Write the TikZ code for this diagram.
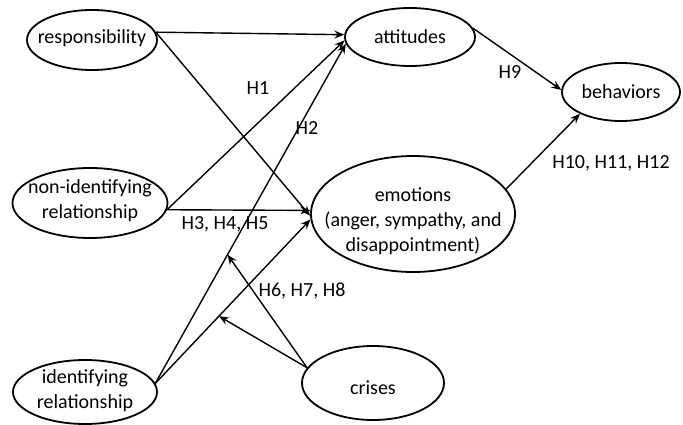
\documentclass[tikz,border=0pt]{standalone}
\usepackage{fontspec}
\setmainfont{Carlito}
\usetikzlibrary{shapes.geometric,arrows.meta}
\tikzset{
  ell/.style={draw, ellipse, line width=1.8pt, inner sep=0pt},
  txt/.style={inner sep=0pt, align=center, font=\fontsize{20}{25}\selectfont},
  hyp/.style={inner sep=0pt, font=\fontsize{20}{25}\selectfont},
  link/.style={line width=1.4pt, -{Stealth[length=10pt,width=8pt,inset=3.5pt]}},
}
\begin{document}
\begin{tikzpicture}[x=1pt,y=-1pt]
\useasboundingbox (0,0) rectangle (683,425);

% constructs
\node[ell, minimum width=130pt, minimum height=60pt]  (resp)   at (92,40)   {};
\node[ell, minimum width=130pt, minimum height=58pt]  (att)    at (410,37)  {};
\node[ell, minimum width=118pt, minimum height=58pt]  (beh)    at (621,92)  {};
\node[ell, minimum width=155pt, minimum height=70pt]  (nonid)  at (90,203)  {};
\node[ell, minimum width=204pt, minimum height=116pt] (emo)    at (413,214) {};
\node[ell, minimum width=144pt, minimum height=64pt]  (ident)  at (85,392)  {};
\node[ell, minimum width=142pt, minimum height=74pt]  (crises) at (373,383) {};

\node[txt] (respT)   at (92,38)    {responsibility};
\node[txt] (attT)    at (410,37)   {attitudes};
\node[txt] (behT)    at (621,92)   {behaviors};
\node[txt] (nonidT)  at (90,201)   {non-identifying\\relationship};
\node[txt] (emoT)    at (413,221)  {emotions\\(anger, sympathy, and\\disappointment)};
\node[txt] (identT)  at (85,391)   {identifying\\relationship};
\node[txt] (crisesT) at (373,388)  {crises};

% paths
\draw[link] (resp.7) -- (att.178);
\draw[link] (resp.7) -- (emo.181);
\draw[link] (nonid.-5) -- (att.183);
\draw[link] (nonid.-5) -- (emo.178);
\draw[link] (ident.7) -- coordinate[pos=0.379] (m1) (att.186);
\draw[link] (ident.7) -- coordinate[pos=0.41] (m2) (emo.183);
\draw[link] (att.8) -- (beh.178);
\draw[link] (emo.15) -- (beh.208);

% moderation by crises
\draw[link] (crises.167) -- (m1);
\draw[link] (crises.167) -- (m2);

% hypothesis labels
\node[hyp] (h1)  at (258,88)  {H1};
\node[hyp] (h2)  at (307,128) {H2};
\node[hyp] (h3)  at (225,224) {H3, H4, H5};
\node[hyp] (h6)  at (302,291) {H6, H7, H8};
\node[hyp] (h9)  at (510,72)  {H9};
\node[hyp] (h10) at (611,163) {H10, H11, H12};
\end{tikzpicture}
\end{document}
